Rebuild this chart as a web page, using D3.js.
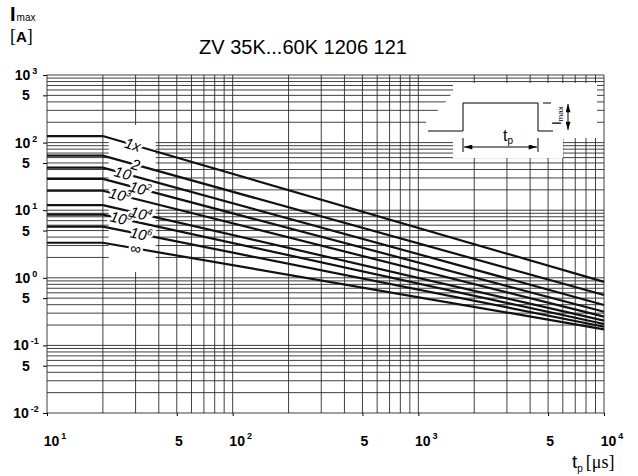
<!DOCTYPE html>
<html>
<head>
<meta charset="utf-8">
<script src="https://cdn.jsdelivr.net/npm/d3@7"></script>
<style>
  body { margin: 0; background: #fff; }
  svg { display: block; font-family: "Liberation Sans", Arial, sans-serif; }
</style>
</head>
<body>
<div id="chart"></div>
<script>
// number of pulses per curve
const pulseBase = ["1x", "2", "10", "10", "10", "10", "10", "10", "\u221e"];
const pulseExp = ["", "", "", "2", "3", "4", "5", "6", ""];
// Imax [A] flat part (t <= 20 us) and value at 10^4 us
const kneeTime = 20;
const endTime = 10000;
const iFlat = [125, 64, 42.5, 29, 19.4, 11.9, 8.6, 5.7, 3.3];
const iEnd = [0.87, 0.557, 0.396, 0.315, 0.266, 0.232, 0.207, 0.189, 0.173];
// where the curve label sits (us)
const labelTime = [29, 30, 25.6, 31.7, 24.7, 32, 25, 32, 30];

const xTicks = [10, 50, 100, 500, 1000, 5000, 10000];
const xTickBase = ["10", "5", "10", "5", "10", "5", "10"];
const xTickExp = ["1", "", "2", "", "3", "", "4"];
const yTicks = [0.01, 0.05, 0.1, 0.5, 1, 5, 10, 50, 100, 500, 1000];
const yTickBase = ["10", "5", "10", "5", "10", "5", "10", "5", "10", "5", "10"];
const yTickExp = ["-2", "", "-1", "", "0", "", "1", "", "2", "", "3"];

const margin = { top: 75, right: 34, bottom: 63, left: 47 },
  width = 638,
  height = 476;

const svg = d3
  .select("#chart")
  .append("svg")
  .attr("width", width)
  .attr("height", height);

const x = d3
  .scaleLog()
  .domain([10, 10000])
  .range([margin.left, width - margin.right]);
const y = d3
  .scaleLog()
  .domain([0.01, 1000])
  .range([height - margin.bottom, margin.top]);

// grid, every 1..9 of each decade
const grid = svg.append("g").attr("stroke", "#2b2b2b").attr("stroke-width", 0.9);
grid
  .selectAll(".hgrid")
  .data(y.ticks())
  .join("line")
  .attr("x1", x(10))
  .attr("x2", x(10000))
  .attr("y1", (d) => y(d))
  .attr("y2", (d) => y(d));
grid
  .selectAll(".vgrid")
  .data(x.ticks())
  .join("line")
  .attr("x1", (d) => x(d))
  .attr("x2", (d) => x(d))
  .attr("y1", y(0.01))
  .attr("y2", y(1000));

// white areas: behind curve labels and behind the pulse sketch
svg
  .append("rect")
  .attr("x", x(21.5))
  .attr("y", y(182))
  .attr("width", x(38.5) - x(21.5))
  .attr("height", y(1.22) - y(182))
  .attr("fill", "#fff");
svg
  .append("polygon")
  .attr(
    "points",
    "453,83 597,83 597,138 563,138 563,158 453,158 453,137 426,134 426,120 442,107 453,92"
  )
  .attr("fill", "#fff");

// axis ticks
const yAxis = svg
  .append("g")
  .attr("transform", "translate(" + x(10) + ",0)")
  .call(d3.axisLeft(y).tickValues(yTicks).tickSize(4).tickFormat(""));
yAxis.select(".domain").remove();
const xAxis = svg
  .append("g")
  .attr("transform", "translate(0," + y(0.01) + ")")
  .call(d3.axisBottom(x).tickValues(xTicks).tickSize(3).tickFormat(""));
xAxis.select(".domain").remove();

// tick labels with exponents
const yLab = svg
  .selectAll(".ylab")
  .data(yTicks)
  .join("text")
  .attr("x", 26)
  .attr("y", (d) => y(d) + 5)
  .attr("text-anchor", "middle")
  .attr("font-weight", "bold")
  .attr("font-size", 14);
yLab.append("tspan").text((d, i) => yTickBase[i]);
yLab
  .append("tspan")
  .attr("dx", 2)
  .attr("dy", -6)
  .attr("font-size", 9)
  .text((d, i) => yTickExp[i]);

const xLab = svg
  .selectAll(".xlab")
  .data(xTicks)
  .join("text")
  .attr("x", (d, i) => x(d) + (xTickExp[i] ? 8 : 2))
  .attr("y", 446)
  .attr("text-anchor", "middle")
  .attr("font-weight", "bold")
  .attr("font-size", 14);
xLab.append("tspan").text((d, i) => xTickBase[i]);
xLab
  .append("tspan")
  .attr("dx", 2)
  .attr("dy", -7)
  .attr("font-size", 9)
  .text((d, i) => xTickExp[i]);

// curves
const curveLine = d3
  .line()
  .x((d) => x(d[0]))
  .y((d) => y(d[1]));
svg
  .append("g")
  .selectAll("path")
  .data(iFlat)
  .join("path")
  .attr("d", (d, i) =>
    curveLine([
      [10, d],
      [kneeTime, d],
      [endTime, iEnd[i]],
    ])
  )
  .attr("fill", "none")
  .attr("stroke", "#111")
  .attr("stroke-width", 2.2);

// curve labels on the lines: white halos first, then the text
function labelPos(d, i) {
  const f = Math.log(labelTime[i] / kneeTime) / Math.log(endTime / kneeTime);
  const v = Math.exp(Math.log(d) + f * Math.log(iEnd[i] / d));
  const ang =
    (Math.atan2(y(iEnd[i]) - y(d), x(endTime) - x(kneeTime)) * 180) / Math.PI;
  return "translate(" + x(labelTime[i]) + "," + y(v) + ") rotate(" + ang + ")";
}
["halo", "ink"].forEach(function (layer) {
  const lab = svg
    .append("g")
    .selectAll("text")
    .data(iFlat)
    .join("text")
    .attr("transform", labelPos)
    .attr("text-anchor", "middle")
    .attr("dy", "0.35em")
    .attr("font-size", 15)
    .attr("font-style", "italic")
    .attr("fill", layer == "ink" ? "#000" : "#fff")
    .attr("stroke", layer == "ink" ? "none" : "#fff")
    .attr("stroke-width", 5)
    .attr("stroke-linejoin", "round");
  lab.append("tspan").text((d, i) => pulseBase[i]);
  lab
    .append("tspan")
    .attr("dy", -6)
    .attr("font-size", 9)
    .text((d, i) => pulseExp[i]);
});

// pulse sketch
const defs = svg.append("defs");
defs
  .append("marker")
  .attr("id", "arr")
  .attr("viewBox", "0 0 10 6")
  .attr("refX", 10)
  .attr("refY", 3)
  .attr("markerWidth", 10)
  .attr("markerHeight", 5)
  .attr("markerUnits", "userSpaceOnUse")
  .attr("orient", "auto-start-reverse")
  .append("path")
  .attr("d", "M0,0L10,3L0,6Z")
  .attr("fill", "#000");

const sk = svg.append("g").attr("fill", "none").attr("stroke", "#000").attr("stroke-width", 1);
sk.append("path").attr("d", "M428,131H463V103H538V131H553");
sk.append("path").attr("d", "M543,103H551");
sk.append("path").attr("d", "M463,138V152M538,138V152");
sk.append("path")
  .attr("d", "M464,147H537")
  .attr("marker-start", "url(#arr)")
  .attr("marker-end", "url(#arr)");
sk.append("path")
  .attr("d", "M568,104V130")
  .attr("marker-start", "url(#arr)")
  .attr("marker-end", "url(#arr)");

const tp = svg.append("text").attr("x", 503).attr("y", 141).attr("font-size", 16);
tp.append("tspan").text("t");
tp.append("tspan").attr("dy", 3).attr("font-size", 10).text("p");

const im = svg.append("text").attr("transform", "translate(561,125) rotate(-90)").attr("font-size", 13);
im.append("tspan").text("I");
im.append("tspan").attr("dy", 2).attr("font-size", 8).text("max");

// axis titles
const yt = svg.append("text").attr("x", 10).attr("y", 21);
yt.append("tspan").attr("font-size", 20).attr("font-weight", "bold").text("I");
yt.append("tspan").attr("font-size", 10).attr("dx", 1).text("max");
const ya = svg.append("text").attr("x", 10).attr("y", 42).attr("font-size", 15);
ya.append("tspan").attr("font-family", "Liberation Serif").attr("font-size", 18).text("[");
ya.append("tspan").attr("font-weight", "bold").text("A");
ya.append("tspan").attr("font-family", "Liberation Serif").attr("font-size", 18).text("]");

const xt = svg.append("text").attr("x", 572).attr("y", 468);
xt.append("tspan").attr("font-size", 19).text("t");
xt.append("tspan").attr("font-size", 10).attr("dy", 4).text("p");
xt.append("tspan")
  .attr("font-family", "Liberation Serif")
  .attr("font-size", 18)
  .attr("dx", 3)
  .attr("dy", -4)
  .text("[\u03bcs]");

// title
svg
  .append("text")
  .attr("x", 303)
  .attr("y", 54)
  .attr("text-anchor", "middle")
  .attr("font-size", 20)
  .text("ZV 35K...60K 1206 121");
</script>
</body>
</html>
